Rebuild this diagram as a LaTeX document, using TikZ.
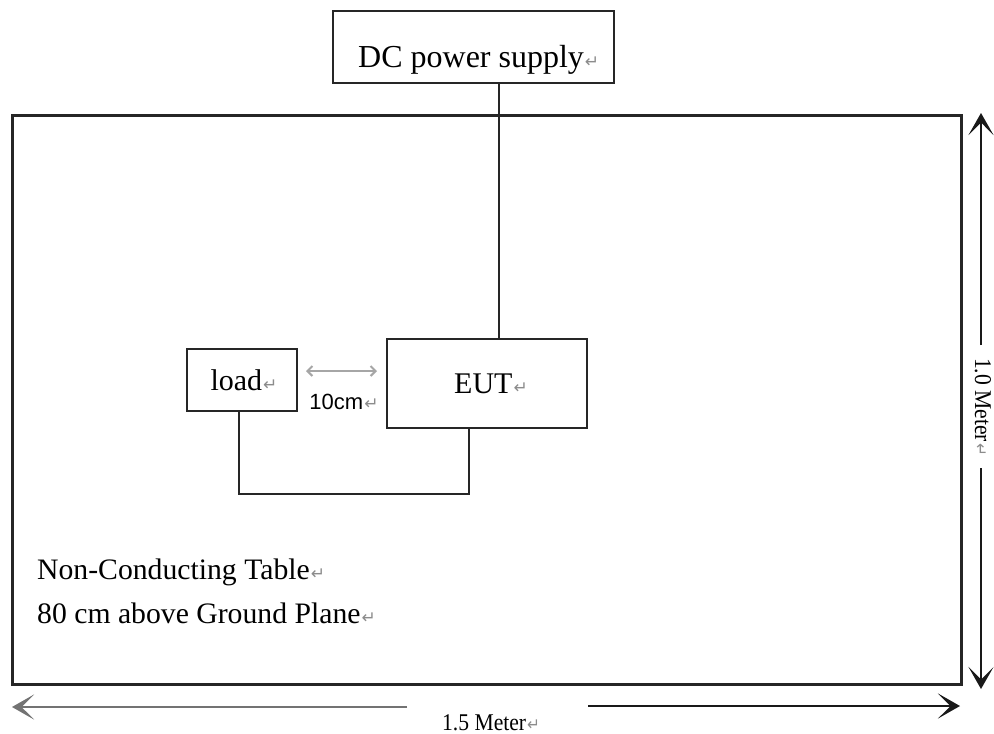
\documentclass[tikz,border=0pt]{standalone}
\usepackage{fontspec}
\setmainfont{Liberation Serif}
\setsansfont{Liberation Sans}
\newfontfamily\symfont{DejaVu Sans}
\usetikzlibrary{arrows.meta}
\newcommand\retmark{{\symfont\fontsize{17}{17}\selectfont\color{black!45}\kern1pt↵}}
\tikzset{
  box/.style={draw=black!85, line width=2pt, inner sep=0pt, fill=white},
  wire/.style={draw=black!85, line width=2pt},
  bigtext/.style={font=\fontsize{30}{30}\selectfont, inner sep=0pt},
  lbltext/.style={font=\fontsize{29.7}{29.7}\selectfont, inner sep=0pt, anchor=base west},
  dimtext/.style={font=\fontsize{24}{24}\selectfont, inner sep=0pt},
  dimar/.style={draw=black!90, line width=2.2pt, -{Stealth[length=22pt,width=25pt,inset=12.5pt]}},
  gapar/.style={draw=black!35, line width=2pt, {Straight Barb[length=5pt,width=10pt]}-{Straight Barb[length=5pt,width=10pt]}}
}
\begin{document}
\begin{tikzpicture}[x=1pt,y=-1pt]
\useasboundingbox[fill=white] (0,0) rectangle (994,734);

% table
\node[box, line width=3pt, fill=none, minimum width=949pt, minimum height=569pt] (table) at (486.5,399.5) {};

% boxes
\node[box, minimum width=281pt, minimum height=72pt] (dc) at (473.5,47) {};
\node[bigtext, font=\fontsize{32}{32}\selectfont, anchor=base west] (dct) at (358,67) {DC power supply\retmark};
\node[box, bigtext, minimum width=200pt, minimum height=89pt] (eut) at (487,383.5) {\hspace*{8pt}EUT\retmark};
\node[box, bigtext, minimum width=110pt, minimum height=62pt] (load) at (242,380) {\hspace*{4pt}load\retmark};

% wires
\coordinate (feed) at (499,0);
\draw[wire] (dc.south -| feed) -- (eut.north -| feed);
\coordinate (loop) at (0,494);
\draw[wire] ([xshift=-3pt]load.south) |- ([xshift=-18pt]eut.south |- loop) -- ([xshift=-18pt]eut.south);

% 10 cm gap
\coordinate (gapy) at (0,371);
\draw[gapar] ([xshift=8pt]load.east |- gapy) -- ([xshift=-9pt]eut.west |- gapy);
\node[font=\sffamily\fontsize{22}{22}\selectfont, inner sep=0pt, anchor=base] (gap) at (344,409) {10cm\retmark};

% table labels
\node[lbltext] (nct) at (37,579) {Non-Conducting Table\retmark};
\node[lbltext] (agp) at (37,623) {80 cm above Ground Plane\retmark};

% horizontal dimension
\coordinate (hl) at (12,707);
\coordinate (hla) at (407,707);
\coordinate (hrb) at (588,706);
\coordinate (hr) at (960,706);
\draw[dimar, draw=black!55] (hla) -- (hl);
\draw[dimar] (hrb) -- (hr);
\node[dimtext, anchor=base] (hm) at (491,730) {\scalebox{0.9}[1]{1.5 Meter\retmark}};

% vertical dimension
\coordinate (vt) at (981,113);
\coordinate (vta) at (981,345);
\coordinate (vba) at (981,468);
\coordinate (vb) at (981,689);
\draw[dimar, line width=1.8pt] (vta) -- (vt);
\draw[dimar, line width=1.8pt] (vba) -- (vb);
\node[dimtext, rotate=-90] (vm) at (983,407) {\scalebox{0.9}[1]{1.0 Meter\retmark}};
\end{tikzpicture}
\end{document}
